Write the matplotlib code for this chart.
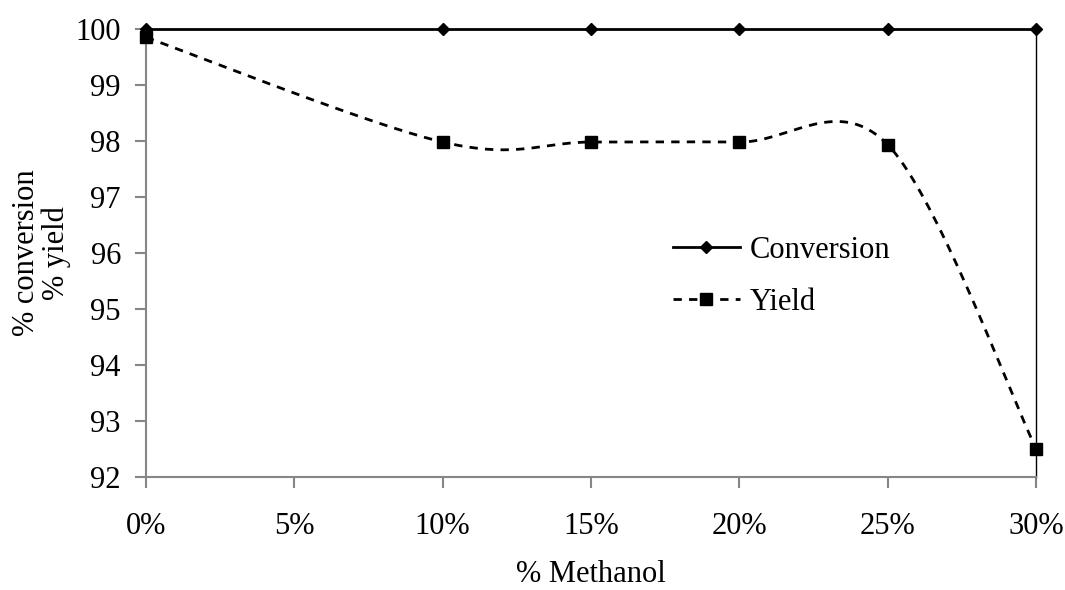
import numpy as np
import matplotlib.pyplot as plt
from matplotlib.ticker import FuncFormatter

# % methanol and measured values
methanol = [0, 10, 15, 20, 25, 30]
conversion = [100, 100, 100, 100, 100, 100]
yield_pct = [99.85, 97.98, 97.98, 97.98, 97.93, 92.5]

plt.rcParams['font.family'] = ['Liberation Serif', 'DejaVu Serif']

fig = plt.figure(figsize=(10.65, 5.9), dpi=100)
ax = fig.add_axes([0.137, 0.1915, 0.836, 0.7595])
ax.set_xlim(0, 30)
ax.set_ylim(92, 100)


def smooth(xs, ys, ax, n=40):
    # Excel-style smoothed line: cubic bezier with control points from neighbours,
    # computed in pixel-like units so the shape follows the axis aspect
    bb = ax.get_position()
    fw, fh = fig.get_size_inches()
    sx = bb.width * fw / (ax.get_xlim()[1] - ax.get_xlim()[0])
    sy = bb.height * fh / (ax.get_ylim()[1] - ax.get_ylim()[0])
    p = np.column_stack([np.array(xs) * sx, np.array(ys) * sy])
    p = np.vstack([p[0], p, p[-1]])
    out = []
    t = np.linspace(0, 1, n)[:, None]
    for i in range(1, len(p) - 2):
        p0, p1 = p[i], p[i + 1]
        c1 = p0 + (p[i + 1] - p[i - 1]) / 6
        c2 = p1 - (p[i + 2] - p[i]) / 6
        seg = ((1 - t) ** 3) * p0 + 3 * ((1 - t) ** 2) * t * c1 + 3 * (1 - t) * t ** 2 * c2 + t ** 3 * p1
        out.append(seg if i == 1 else seg[1:])
    out = np.vstack(out)
    return out[:, 0] / sx, out[:, 1] / sy


lw = 2.0
dash = (0, (3, 2.6))
ax.plot(methanol, conversion, color='black', lw=lw, marker='D', ms=6.5,
        clip_on=False, zorder=4, label='Conversion')
sx_, sy_ = smooth(methanol, yield_pct, ax)
ax.plot(sx_, sy_, color='black', lw=lw, ls=dash, clip_on=False, zorder=3)
ax.plot(methanol, yield_pct, ls='none', marker='s', ms=8, color='black',
        clip_on=False, zorder=4)
# legend proxy for yield
ax.plot([], [], color='black', lw=lw, ls=dash, marker='s', ms=8, label='Yield')

gray = '#868686'
ax.spines['top'].set_visible(False)
ax.spines['left'].set_color(gray)
ax.spines['bottom'].set_color(gray)
ax.spines['left'].set_linewidth(1.5)
ax.spines['bottom'].set_linewidth(1.5)
ax.spines['right'].set_color('black')
ax.spines['right'].set_linewidth(1.0)

ax.set_xticks(range(0, 31, 5))
ax.set_yticks(range(92, 101))
ax.xaxis.set_major_formatter(FuncFormatter(lambda v, p: f'{int(v)}%'))
ax.tick_params(axis='both', colors=gray, labelcolor='black', labelsize=22,
               length=8, width=1.5, direction='out')
ax.tick_params(axis='x', pad=17)
ax.tick_params(axis='y', pad=10)

ax.set_xlabel('% Methanol', fontsize=22, labelpad=14)
ax.set_ylabel('% conversion\n% yield', fontsize=22, labelpad=3, linespacing=1.05)

ax.legend(loc='center left', bbox_to_anchor=(0.561, 0.4475), frameon=False,
          fontsize=22, handlelength=2.2, handletextpad=0.3, labelspacing=0.75)

fig.savefig('out.png', dpi=100)
